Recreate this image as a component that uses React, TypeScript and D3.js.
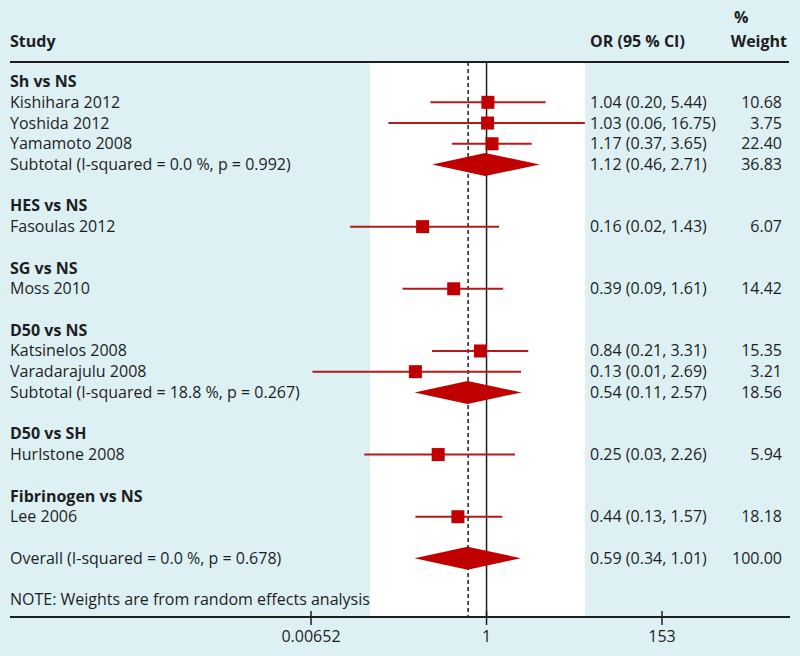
import React, { useRef, useEffect } from "react";
import * as d3 from "d3";

// subgroup headers and the row each one sits on
const groupNames = ["Sh vs NS", "HES vs NS", "SG vs NS", "D50 vs NS", "D50 vs SH", "Fibrinogen vs NS"];
const groupRows = [0, 6, 9, 12, 17, 20];

// individual studies
const studyNames = [
  "Kishihara 2012",
  "Yoshida 2012",
  "Yamamoto 2008",
  "Fasoulas 2012",
  "Moss 2010",
  "Katsinelos 2008",
  "Varadarajulu 2008",
  "Hurlstone 2008",
  "Lee 2006",
];
const studyRows = [1, 2, 3, 7, 10, 13, 14, 18, 21];
const studyOR = [1.04, 1.03, 1.17, 0.16, 0.39, 0.84, 0.13, 0.25, 0.44];
const studyLow = [0.2, 0.06, 0.37, 0.02, 0.09, 0.21, 0.0068, 0.03, 0.13];
const studyHigh = [5.44, 16.75, 3.65, 1.43, 1.61, 3.31, 2.69, 2.26, 1.57];
const studyCI = [
  "1.04 (0.20, 5.44)",
  "1.03 (0.06, 16.75)",
  "1.17 (0.37, 3.65)",
  "0.16 (0.02, 1.43)",
  "0.39 (0.09, 1.61)",
  "0.84 (0.21, 3.31)",
  "0.13 (0.01, 2.69)",
  "0.25 (0.03, 2.26)",
  "0.44 (0.13, 1.57)",
];
const studyWeight = ["10.68", "3.75", "22.40", "6.07", "14.42", "15.35", "3.21", "5.94", "18.18"];

// pooled estimates (diamonds as drawn in the figure)
const pooledLabels = [
  "Subtotal (I-squared = 0.0 %, p = 0.992)",
  "Subtotal (I-squared = 18.8 %, p = 0.267)",
  "Overall (I-squared = 0.0 %, p = 0.678)",
];
const pooledRows = [4, 15, 23];
const pooledMid = [0.96, 0.58, 0.58];
const pooledLow = [0.21, 0.127, 0.127];
const pooledHigh = [4.6, 2.73, 2.68];
const pooledCI = ["1.12 (0.46, 2.71)", "0.54 (0.11, 2.57)", "0.59 (0.34, 1.01)"];
const pooledWeight = ["36.83", "18.56", "100.00"];

const overallOR = 0.59;
const noteText = "NOTE: Weights are from random effects analysis";
const noteRow = 25;

const axisTicks = [0.00652, 1, 153];
const axisLabels = ["0.00652", "1", "153"];

const BG = "#ddf0f4";
const RED = "#c00000";
const LINE_RED = "#b31b1b";
const INK = "#1e1e1e";
const FONT = "'Open Sans', 'Noto Sans', sans-serif";
const FS = "16px";

export const ForestPlot = () => {
  const chartRef = useRef<SVGSVGElement>(null);

  useEffect(() => {
    const svg = d3.select(chartRef.current);
    svg.selectAll("*").remove();

    const width = 800;
    const height = 656;
    const headerY = 62;
    const axisY = 617;
    const panelLeft = 370;
    const panelRight = 585;
    const ciX = 590;
    const weightX = 782;

    const xScale = d3.scaleLog().domain([0.00652, 153]).range([311, 662]);
    const yScale = d3.scaleLinear().domain([0, 25]).range([81.6, 599.6]);

    svg.attr("width", width).attr("height", height).style("font-family", FONT);

    svg.append("rect").attr("width", width).attr("height", height).attr("fill", BG);

    // white plot panel
    svg
      .append("rect")
      .attr("x", panelLeft)
      .attr("y", headerY)
      .attr("width", panelRight - panelLeft)
      .attr("height", axisY - headerY)
      .attr("fill", "#ffffff");

    // header
    const header = svg.append("g").attr("fill", INK).style("font-size", FS).style("font-weight", 700);
    header.append("text").attr("x", 10).attr("y", 47).text("Study");
    header.append("text").attr("x", ciX).attr("y", 47).text("OR (95 % CI)");
    header.append("text").attr("x", 734).attr("y", 23).text("%");
    header.append("text").attr("x", 787).attr("y", 47).attr("text-anchor", "end").text("Weight");

    svg
      .append("line")
      .attr("x1", 10)
      .attr("x2", 789)
      .attr("y1", headerY)
      .attr("y2", headerY)
      .attr("stroke", INK)
      .attr("stroke-width", 2);

    // reference lines
    svg
      .append("line")
      .attr("x1", xScale(1))
      .attr("x2", xScale(1))
      .attr("y1", headerY)
      .attr("y2", axisY)
      .attr("stroke", INK)
      .attr("stroke-width", 1.5);

    svg
      .append("line")
      .attr("x1", xScale(overallOR))
      .attr("x2", xScale(overallOR))
      .attr("y1", headerY)
      .attr("y2", axisY)
      .attr("stroke", INK)
      .attr("stroke-width", 1.5)
      .attr("stroke-dasharray", "4,3");

    const textBaseline = 5.5;
    const body = svg.append("g").attr("fill", INK).style("font-size", FS);

    groupNames.forEach((name, i) => {
      body
        .append("text")
        .attr("x", 10)
        .attr("y", yScale(groupRows[i]) + textBaseline)
        .style("font-weight", 700)
        .text(name);
    });

    // study CIs and squares
    const sq = 13;
    studyNames.forEach((name, i) => {
      const y = yScale(studyRows[i]);
      body.append("text").attr("x", 10).attr("y", y + textBaseline).text(name);
      body.append("text").attr("x", ciX).attr("y", y + textBaseline).text(studyCI[i]);
      body
        .append("text")
        .attr("x", weightX)
        .attr("y", y + textBaseline)
        .attr("text-anchor", "end")
        .text(studyWeight[i]);

      svg
        .append("line")
        .attr("x1", xScale(studyLow[i]))
        .attr("x2", xScale(studyHigh[i]))
        .attr("y1", y)
        .attr("y2", y)
        .attr("stroke", LINE_RED)
        .attr("stroke-width", 2);

      svg
        .append("rect")
        .attr("x", xScale(studyOR[i]) - sq / 2)
        .attr("y", y - sq / 2)
        .attr("width", sq)
        .attr("height", sq)
        .attr("fill", RED);
    });

    // diamonds
    const halfH = 11.5;
    pooledLabels.forEach((label, i) => {
      const y = yScale(pooledRows[i]);
      body.append("text").attr("x", 10).attr("y", y + textBaseline).text(label);
      body.append("text").attr("x", ciX).attr("y", y + textBaseline).text(pooledCI[i]);
      body
        .append("text")
        .attr("x", weightX)
        .attr("y", y + textBaseline)
        .attr("text-anchor", "end")
        .text(pooledWeight[i]);

      const pts: [number, number][] = [
        [xScale(pooledLow[i]), y],
        [xScale(pooledMid[i]), y - halfH],
        [xScale(pooledHigh[i]), y],
        [xScale(pooledMid[i]), y + halfH],
      ];
      svg
        .append("path")
        .attr("d", d3.line()(pts) + "Z")
        .attr("fill", RED);
    });

    body.append("text").attr("x", 10).attr("y", yScale(noteRow) + textBaseline).text(noteText);

    // x axis
    svg
      .append("line")
      .attr("x1", 10)
      .attr("x2", 790)
      .attr("y1", axisY)
      .attr("y2", axisY)
      .attr("stroke", INK)
      .attr("stroke-width", 2);

    const ax = svg.append("g");
    axisTicks.forEach((t, i) => {
      ax.append("line")
        .attr("x1", xScale(t))
        .attr("x2", xScale(t))
        .attr("y1", axisY - 6)
        .attr("y2", axisY + 8)
        .attr("stroke", INK)
        .attr("stroke-width", 1.5);
      ax.append("text")
        .attr("x", xScale(t))
        .attr("y", axisY + 25)
        .attr("text-anchor", "middle")
        .attr("fill", INK)
        .style("font-size", FS)
        .text(axisLabels[i]);
    });
  }, []);

  return <svg ref={chartRef} style={{ display: "block" }}></svg>;
};

export default function App() {
  useEffect(() => {
    document.body.style.margin = "0";
  }, []);
  return <ForestPlot />;
}
